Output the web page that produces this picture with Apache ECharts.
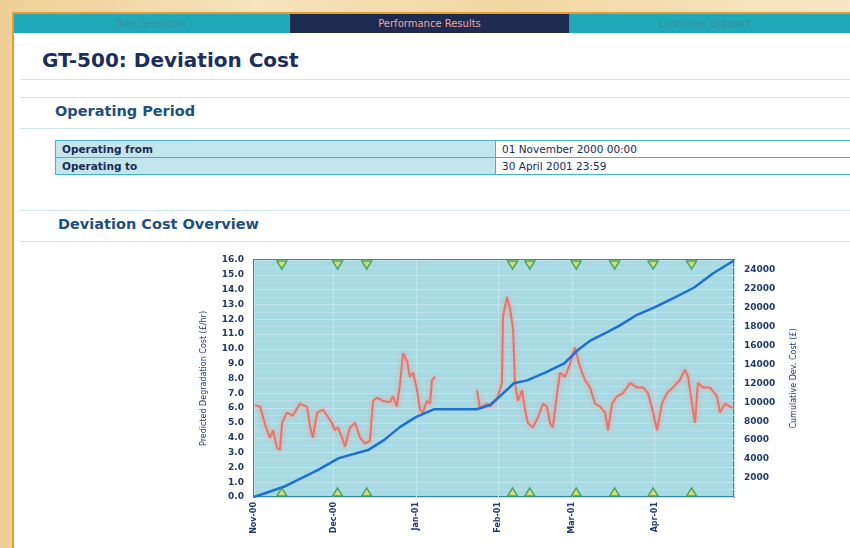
<!DOCTYPE html>
<html>
<head>
<meta charset="utf-8">
<script src="https://cdn.jsdelivr.net/npm/echarts@6/dist/echarts.min.js"></script>
<style>
  html, body { margin:0; padding:0; }
  body { width:850px; height:548px; overflow:hidden; position:relative;
         background: linear-gradient(90deg, #efcf96 0%, #f6e2bb 30%, #f3d7a3 60%, #f8e6c4 100%);
         font-family: "DejaVu Sans", Verdana, sans-serif; }
  .frame { position:absolute; left:12px; top:12px; width:860px; height:560px; background:#fff;
           border-left:2px solid #e59d33; border-top:2px solid #e59d33; }
  .nav { position:absolute; left:14px; top:14px; width:836px; height:19px; background:#1fa9b8; }
  .tab { position:absolute; top:0; height:19px; line-height:19px; font-size:10px; text-align:center; color:#3c8f9e; }
  .tab.active { background:#1c2b4f; color:#f2a3a3; }
  .title { position:absolute; left:42px; top:48px; font-size:20px; font-weight:bold; color:#1c2e5b; white-space:nowrap; }
  .rule { position:absolute; left:20px; width:830px; height:1px; background:#cfe7ee; }
  .h2 { position:absolute; font-size:14.5px; font-weight:bold; color:#1e4f7e; white-space:nowrap; }
  table { position:absolute; left:55px; top:140px; width:800px; border-collapse:collapse; }
  td { border:1px solid #45b3c9; height:16px; padding:0 6px; font-size:10.5px; color:#1b2b55; white-space:nowrap; }
  td.k { width:427px; background:#c2e6ed; font-weight:bold; }
  #chart { position:absolute; left:0; top:0; width:850px; height:548px; }
</style>
</head>
<body>
<div class="frame"></div>
<div class="nav">
  <div class="tab" style="left:0;width:275px;">Site Selection</div>
  <div class="tab active" style="left:276px;width:279px;">Performance Results</div>
  <div class="tab" style="left:556px;width:270px;">Customer Support</div>
</div>
<div class="title">GT-500: Deviation Cost</div>
<div class="rule" style="top:79px;"></div>
<div class="rule" style="top:97px;"></div>
<div class="h2" style="left:55px;top:103px;">Operating Period</div>
<div class="rule" style="top:128px;"></div>
<table>
  <tr><td class="k">Operating from</td><td>01 November 2000 00:00</td></tr>
  <tr><td class="k">Operating to</td><td>30 April 2001 23:59</td></tr>
</table>
<div class="rule" style="top:210px;"></div>
<div class="h2" style="left:58px;top:216px;">Deviation Cost Overview</div>
<div class="rule" style="top:241px;"></div>
<div id="chart"></div>
<script>
// ---- data (x values are days since 01 Nov 2000) ----
const periodStart = [2000, 10, 1];   // 01 November 2000
const periodDays = 181;              // to 01 May 2001
const monthNames = ['Jan','Feb','Mar','Apr','May','Jun','Jul','Aug','Sep','Oct','Nov','Dec'];

const leftAxisName = 'Predicted Degradation Cost (£/hr)';
const rightAxisName = 'Cumulative Dev. Cost (£)';

// predicted degradation cost (£/hr); null = no data
const redDays = [0.4,2.3,4.5,6.0,7.2,8.7,9.8,10.6,12.4,14.7,17.3,18.5,20.0,21.1,22.2,23.8,26.0,27.9,29.4,30.5,
  31.7,33.2,34.3,36.2,38.1,40.0,41.9,43.7,44.9,46.4,48.6,51.3,52.4,53.9,55.1,56.2,57.7,58.8,60.0,61.5,
  62.6,63.7,65.2,66.4,67.1,68.3,76.0,84.1,85.2,87.9,89.0,91.6,93.5,93.9,95.4,96.5,97.7,98.4,99.5,101.1,
  102.2,103.3,105.2,107.1,109.0,110.5,111.6,112.7,114.3,115.4,117.3,119.2,121.0,122.9,124.8,126.7,128.6,130.5,132.4,133.5,
  135.0,136.9,139.1,141.8,144.4,146.7,148.6,150.5,152.0,153.8,155.7,158.0,160.6,162.5,163.7,165.5,166.3,167.4,169.3,171.9,
  174.6,175.7,177.6,179.5,181.0];
const redValues = [6.2,6.1,4.7,4.0,4.5,3.3,3.2,5.0,5.7,5.5,6.3,6.2,6.1,4.8,4.0,5.7,5.9,5.4,5.0,4.5,
  4.7,4.0,3.4,4.7,5.0,4.0,3.6,3.8,6.5,6.7,6.5,6.4,6.8,6.1,7.7,9.7,9.2,8.1,8.4,7.2,
  5.9,5.7,6.5,6.3,7.9,8.1,null,7.2,6.0,6.3,6.1,6.6,7.7,12.2,13.5,12.8,11.3,7.7,6.5,7.2,
  5.9,5.0,4.7,5.4,6.3,6.1,5.0,4.7,7.0,8.4,8.1,9.0,10.1,8.8,7.9,7.4,6.3,6.1,5.7,4.5,
  6.3,6.8,7.0,7.7,7.4,7.4,7.0,5.7,4.5,6.3,7.0,7.4,7.9,8.6,8.1,5.9,5.0,7.7,7.4,7.4,
  6.8,5.7,6.3,6.1,6.0];

// cumulative deviation cost (£)
const blueDays = [0,11,24,32,43,49,55,61,68,84,89,93,98,103,110,117,122,127,133,138,144,151,158,166,173,181];
const blueValues = [0,1050,2840,4100,4950,6000,7370,8420,9260,9260,9700,10700,12000,12300,13150,14100,15470,16530,17370,18100,19150,20000,20950,22100,23580,24950];

// event markers (days)
const markerDays = [10.5,31.5,42.5,97.5,104,121.5,136,150.5,165];

// ---- build ----
const t0 = new Date(periodStart[0], periodStart[1], periodStart[2]).getTime();
const dayMs = 86400000;
const toT = d => t0 + d * dayMs;
const tEnd = toT(periodDays);
const redData = redDays.map((d, i) => [toT(d), redValues[i]]);
const blueData = blueDays.map((d, i) => [toT(d), blueValues[i]]);
const topMarks = markerDays.map(d => [toT(d), 1]);
const botMarks = markerDays.map(d => [toT(d), 0]);

const txt = '#1f3a6b';
const chart = echarts.init(document.getElementById('chart'), null, {renderer:'canvas'});
chart.setOption({
  animation: false,
  backgroundColor: 'transparent',
  grid: { left:254, top:260, width:480, height:237, show:true, backgroundColor:'#a8dae4',
          borderColor:'#2b8ba6', borderWidth:2 },
  xAxis: {
    type:'time', min: toT(0), max: tEnd, splitNumber: 6,
    axisLine:{show:false}, axisTick:{show:false},
    splitLine:{show:true, lineStyle:{color:'#c2e5ec', width:1}},
    axisLabel:{ rotate:90, fontSize:8, fontWeight:'bold', color:txt, margin:5,
      fontFamily:'DejaVu Sans', showMaxLabel:false,
      formatter: v => { if (v >= tEnd - dayMs) return ''; const d = new Date(v); return monthNames[d.getMonth()] + '-' + String(d.getFullYear()).slice(2); } }
  },
  yAxis: [
    { type:'value', position:'left', min:0, max:16, interval:1,
      name:leftAxisName, nameLocation:'middle', nameGap:46,
      nameTextStyle:{fontSize:8, color:txt, fontFamily:'DejaVu Sans'},
      axisLine:{show:false}, axisTick:{show:false},
      axisLabel:{fontSize:9, fontWeight:'bold', color:txt, margin:10, fontFamily:'DejaVu Sans',
        formatter: v => v.toFixed(1)},
      splitLine:{show:true, lineStyle:{color:'#c2e5ec', width:1}},
      minorTick:{show:false, splitNumber:2},
      minorSplitLine:{show:true, lineStyle:{color:'#b8e0e8', width:1}} },
    { type:'value', position:'right', min:0, max:25000, interval:2000,
      name:rightAxisName, nameLocation:'middle', nameGap:56,
      nameTextStyle:{fontSize:8, color:txt, fontFamily:'DejaVu Sans'},
      axisLine:{show:false}, axisTick:{show:false}, splitLine:{show:false},
      axisLabel:{fontSize:9, fontWeight:'bold', color:txt, margin:10, fontFamily:'DejaVu Sans',
        showMinLabel:false, showMaxLabel:false, formatter: v => String(v)} },
    { type:'value', show:false, min:0, max:1 }
  ],
  series: [
    { name:'Predicted Degradation Cost', type:'line', yAxisIndex:0, data:redData, showSymbol:false,
      connectNulls:false, z:2,
      lineStyle:{color:'#e4766b', width:2, shadowColor:'rgba(245,150,138,0.95)', shadowBlur:5} },
    { name:'Cumulative Dev. Cost', type:'line', yAxisIndex:1, data:blueData, showSymbol:false, z:3,
      lineStyle:{color:'#1d6fd5', width:2.5} },
    { type:'scatter', yAxisIndex:2, data:topMarks, symbol:'triangle', symbolRotate:180,
      symbolSize:[10,8], symbolOffset:[0,5], z:4,
      itemStyle:{color:'#dcdc62', borderColor:'#2f9a48', borderWidth:1.5} },
    { type:'scatter', yAxisIndex:2, data:botMarks, symbol:'triangle',
      symbolSize:[10,8], symbolOffset:[0,-5], z:4,
      itemStyle:{color:'#dcdc62', borderColor:'#2f9a48', borderWidth:1.5} }
  ]
});
</script>
</body>
</html>
